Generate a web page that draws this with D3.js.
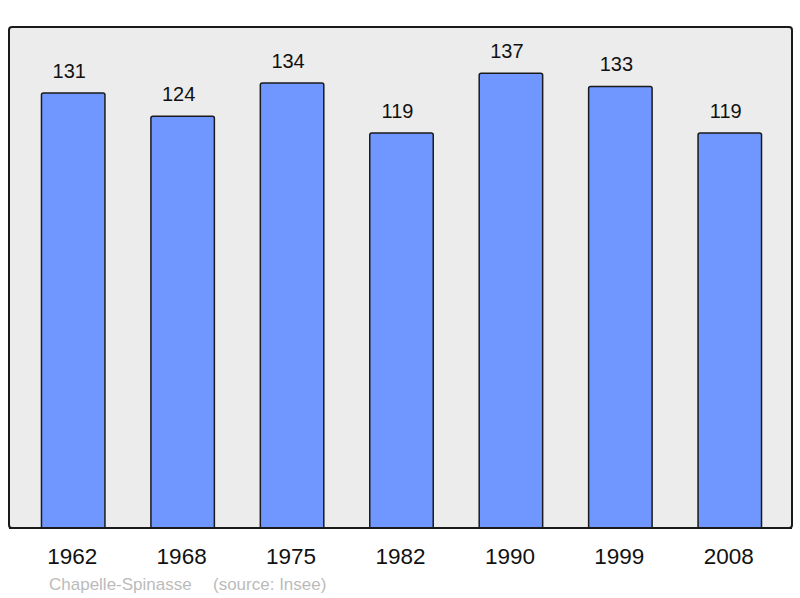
<!DOCTYPE html>
<html>
<head>
<meta charset="utf-8">
<script src="https://cdn.jsdelivr.net/npm/d3@7"></script>
<style>
  body { margin: 0; background: #fff; }
  text { font-family: "Liberation Sans", Arial, sans-serif; }
</style>
</head>
<body>
<div id="chart"></div>
<script>
const years = ["1962", "1968", "1975", "1982", "1990", "1999", "2008"];
const population = [131, 124, 134, 119, 137, 133, 119];
const commune = "Chapelle-Spinasse";
const source = "(source: Insee)";

const width = 800;
const height = 598;

const svg = d3.select("#chart").append("svg")
    .attr("width", width)
    .attr("height", height);

// panel background
svg.append("rect")
    .attr("x", 9)
    .attr("y", 27)
    .attr("width", 783)
    .attr("height", 501)
    .attr("rx", 3)
    .attr("fill", "#ececec")
    .attr("stroke", "#1a1a1a")
    .attr("stroke-width", 2);

const x = d3.scaleBand()
    .domain(years)
    .range([18.5, 784.5])
    .paddingInner(0.42)
    .paddingOuter(0.21);

const y = d3.scaleLinear()
    .domain([0, 150])
    .range([528, 30]);

const data = years.map((d, i) => ({year: d, value: population[i]}));

svg.append("g")
    .selectAll("rect")
    .data(data)
    .join("rect")
        .attr("x", d => x(d.year))
        .attr("y", d => y(d.value))
        .attr("width", x.bandwidth())
        .attr("height", d => y(0) - y(d.value) + 4)
        .attr("rx", 2)
        .attr("fill", "#7097ff")
        .attr("stroke", "#1a1a1a")
        .attr("stroke-width", 1.5);

// redraw the bottom edge so bars sit on the frame
svg.append("line")
    .attr("x1", 9).attr("x2", 792)
    .attr("y1", 528).attr("y2", 528)
    .attr("stroke", "#1a1a1a")
    .attr("stroke-width", 2);
svg.append("rect")
    .attr("x", 0).attr("y", 529)
    .attr("width", width).attr("height", 8)
    .attr("fill", "#fff");

svg.append("g")
    .selectAll("text")
    .data(data)
    .join("text")
        .attr("x", d => x(d.year) + x.bandwidth() / 2 - 4)
        .attr("y", d => y(d.value) - 15)
        .attr("text-anchor", "middle")
        .attr("font-size", 20)
        .attr("fill", "#111")
        .text(d => d.value);

const xAxis = svg.append("g")
    .attr("transform", "translate(0,564)");
xAxis.selectAll("text")
    .data(years)
    .join("text")
        .attr("x", d => x(d) + x.bandwidth() / 2 - 1)
        .attr("text-anchor", "middle")
        .attr("font-size", 22.5)
        .attr("fill", "#111")
        .text(d => d);

svg.append("text")
    .attr("x", 49)
    .attr("y", 590)
    .attr("font-size", 17)
    .attr("fill", "#bbb")
    .text(commune);
svg.append("text")
    .attr("x", 213)
    .attr("y", 590)
    .attr("font-size", 17)
    .attr("fill", "#bbb")
    .text(source);
</script>
</body>
</html>
